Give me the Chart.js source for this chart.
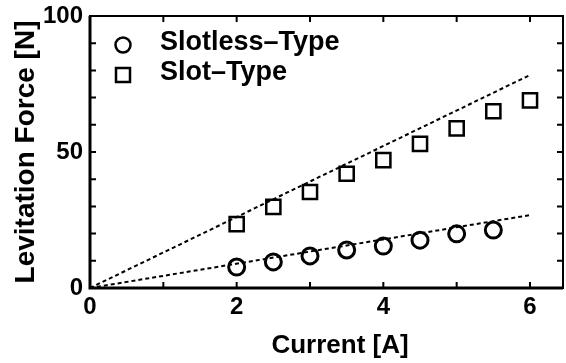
<!DOCTYPE html>
<html>
<head>
<meta charset="utf-8">
<script src="https://cdn.jsdelivr.net/npm/chart.js@4/dist/chart.umd.min.js"></script>
<style>
  html, body { margin: 0; padding: 0; background: #fff; overflow: hidden; }
  canvas { display: block; }
</style>
</head>
<body>
<canvas id="my-chart" width="566" height="363"></canvas>
<script>
let currents = [2, 2.5, 3, 3.5, 4, 4.5, 5, 5.5, 6]
let slotlessForce = [7.7, 9.6, 11.8, 14, 15.4, 17.6, 19.9, 21.3]
let slotForce = [23.5, 29.8, 35.3, 42, 47, 53, 58.7, 65, 69]
let fitX = [0, 6]
let slotlessFit = [0, 26.8]
let slotFit = [0, 78.3]
let xTicks = [0, 1, 2, 3, 4, 5, 6]
let yTicks = [0, 10, 20, 30, 40, 50, 60, 70, 80, 90, 100]
let legendLabels = ["Slotless\u2013Type", "Slot\u2013Type"]
let xTitle = "Current [A]"

const font = "'Liberation Sans', Arial, sans-serif"

function pts(xs, ys) {
    return ys.map((y, i) => ({x: xs[i], y: y}))
}

// box with inward ticks on all four sides, legend and x title
const frame = {
    id: "frame",
    afterDraw(chart) {
        const {ctx, chartArea: a, scales: {x, y}} = chart
        ctx.save()
        ctx.strokeStyle = "#000"
        ctx.lineWidth = 2
        ctx.strokeRect(a.left, a.top, a.right - a.left, a.bottom - a.top)
        ctx.lineWidth = 3
        ctx.beginPath()
        ctx.moveTo(a.left, a.top)
        ctx.lineTo(a.left, a.bottom)
        ctx.lineTo(a.right, a.bottom)
        ctx.stroke()
        ctx.lineWidth = 2
        ctx.beginPath()
        xTicks.forEach(v => {
            const px = x.getPixelForValue(v)
            ctx.moveTo(px, a.bottom); ctx.lineTo(px, a.bottom - 6)
            ctx.moveTo(px, a.top); ctx.lineTo(px, a.top + 6)
        })
        yTicks.forEach(v => {
            const py = y.getPixelForValue(v)
            ctx.moveTo(a.left, py); ctx.lineTo(a.left + 6, py)
            ctx.moveTo(a.right, py); ctx.lineTo(a.right - 6, py)
        })
        ctx.stroke()

        ctx.fillStyle = "#000"
        ctx.textBaseline = "middle"
        ctx.textAlign = "center"
        ctx.font = "bold 26px " + font
        ctx.fillText(xTitle, 340, 346)

        // legend
        ctx.textAlign = "left"
        ctx.font = "bold 27px " + font
        ctx.lineWidth = 2.5
        const rows = [45, 75]
        ctx.beginPath()
        ctx.arc(123, rows[0], 7.5, 0, Math.PI * 2)
        ctx.stroke()
        ctx.strokeRect(116, rows[1] - 7, 14, 14)
        legendLabels.forEach((t, i) => ctx.fillText(t, 160, rows[i] - 2))
        ctx.restore()
    }
}

new Chart("my-chart", {
    type: "scatter",
    data: {
        datasets: [
            {
                type: "line",
                data: pts(fitX, slotFit),
                borderColor: "#000",
                borderWidth: 2,
                borderDash: [4, 3],
                pointRadius: 0
            },
            {
                type: "line",
                data: pts(fitX, slotlessFit),
                borderColor: "#000",
                borderWidth: 2,
                borderDash: [4, 3],
                pointRadius: 0
            },
            {
                label: legendLabels[0],
                data: pts(currents, slotlessForce),
                pointStyle: "circle",
                pointRadius: 8,
                borderWidth: 3,
                borderColor: "#000",
                backgroundColor: "#fff"
            },
            {
                label: legendLabels[1],
                data: pts(currents, slotForce),
                pointStyle: "rect",
                pointRadius: 10,
                borderWidth: 2.5,
                borderColor: "#000",
                backgroundColor: "#fff"
            }
        ]
    },
    options: {
        responsive: false,
        animation: false,
        layout: {
            autoPadding: false,
            padding: {top: 16, right: 3, left: 0, bottom: 0}
        },
        plugins: {
            legend: {display: false},
            tooltip: {enabled: false}
        },
        scales: {
            x: {
                type: "linear",
                min: 0,
                max: 6.45,
                afterFit: s => {
                    s.height = 75
                    s.paddingLeft = 0
                    s.paddingRight = 0
                },
                afterBuildTicks: s => { s.ticks = xTicks.map(v => ({value: v})) },
                grid: {display: false, drawTicks: false},
                border: {display: false},
                ticks: {
                    autoSkip: false,
                    maxRotation: 0,
                    padding: 5,
                    color: "#000",
                    font: {family: font, size: 24, weight: "bold"},
                    callback: v => (v % 2 === 0 ? v : "")
                }
            },
            y: {
                min: 0,
                max: 100,
                afterFit: s => {
                    s.width = 90
                    s.paddingTop = 0
                    s.paddingBottom = 0
                },
                afterBuildTicks: s => { s.ticks = yTicks.map(v => ({value: v})) },
                grid: {display: false, drawTicks: false},
                border: {display: false},
                ticks: {
                    autoSkip: false,
                    padding: 7,
                    color: "#000",
                    font: {family: font, size: 24, weight: "bold"},
                    callback: v => (v % 50 === 0 ? v : "")
                },
                title: {
                    display: true,
                    text: "Levitation Force [N]",
                    color: "#000",
                    padding: {top: 9, bottom: 0},
                    font: {family: font, size: 28, weight: "bold"}
                }
            }
        }
    },
    plugins: [frame]
})
</script>
</body>
</html>
